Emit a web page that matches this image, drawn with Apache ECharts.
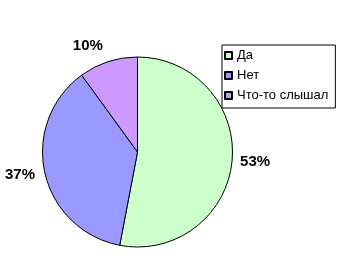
<!DOCTYPE html>
<html><head><meta charset="utf-8">
<script src="https://cdn.jsdelivr.net/npm/echarts@6/dist/echarts.min.js"></script>
<style>html,body{margin:0;padding:0;background:#fff}#c{width:349px;height:267px}</style>
</head><body><div id="c"></div>
<script>
const categories = ['Да', 'Нет', 'Что-то слышал'];
const values = [53, 37, 10];
const colors = ['#CCFFCC', '#9999FF', '#CC99FF'];

const labelGap = [8, 10, 17];

const chart = echarts.init(document.getElementById('c'), null, {renderer: 'canvas'});
const data = categories.map((n, i) => ({
  name: n,
  value: values[i],
  itemStyle: {color: colors[i]},
  labelLine: {length: labelGap[i], length2: 0, show: false}
}));
chart.setOption({
  animation: false,
  backgroundColor: '#fff',
  legend: {
    orient: 'vertical',
    left: 222, top: 45,
    padding: [4, 7, 6, 2],
    borderColor: '#000', borderWidth: 1,
    itemWidth: 7, itemHeight: 7, itemGap: 7, itemTextGap: 4,
    icon: 'rect',
    textStyle: {fontFamily: 'Liberation Sans, Arial', fontSize: 13, color: '#000', lineHeight: 13},
    data: categories
  },
  series: [{
    type: 'pie',
    center: [137.5, 152],
    radius: 95,
    startAngle: 90,
    clockwise: true,
    itemStyle: {borderColor: '#000', borderWidth: 1},
    emphasis: {disabled: true},
    label: {
      show: true, position: 'outside',
      formatter: '{d}%',
      distanceToLabelLine: 0,
      overflow: 'none',
      fontFamily: 'Liberation Sans, Arial', fontSize: 15, fontWeight: 'bold', color: '#000'
    },
    labelLine: {show: false, length: 8, length2: 0},
    data: data
  }]
});
</script></body></html>
